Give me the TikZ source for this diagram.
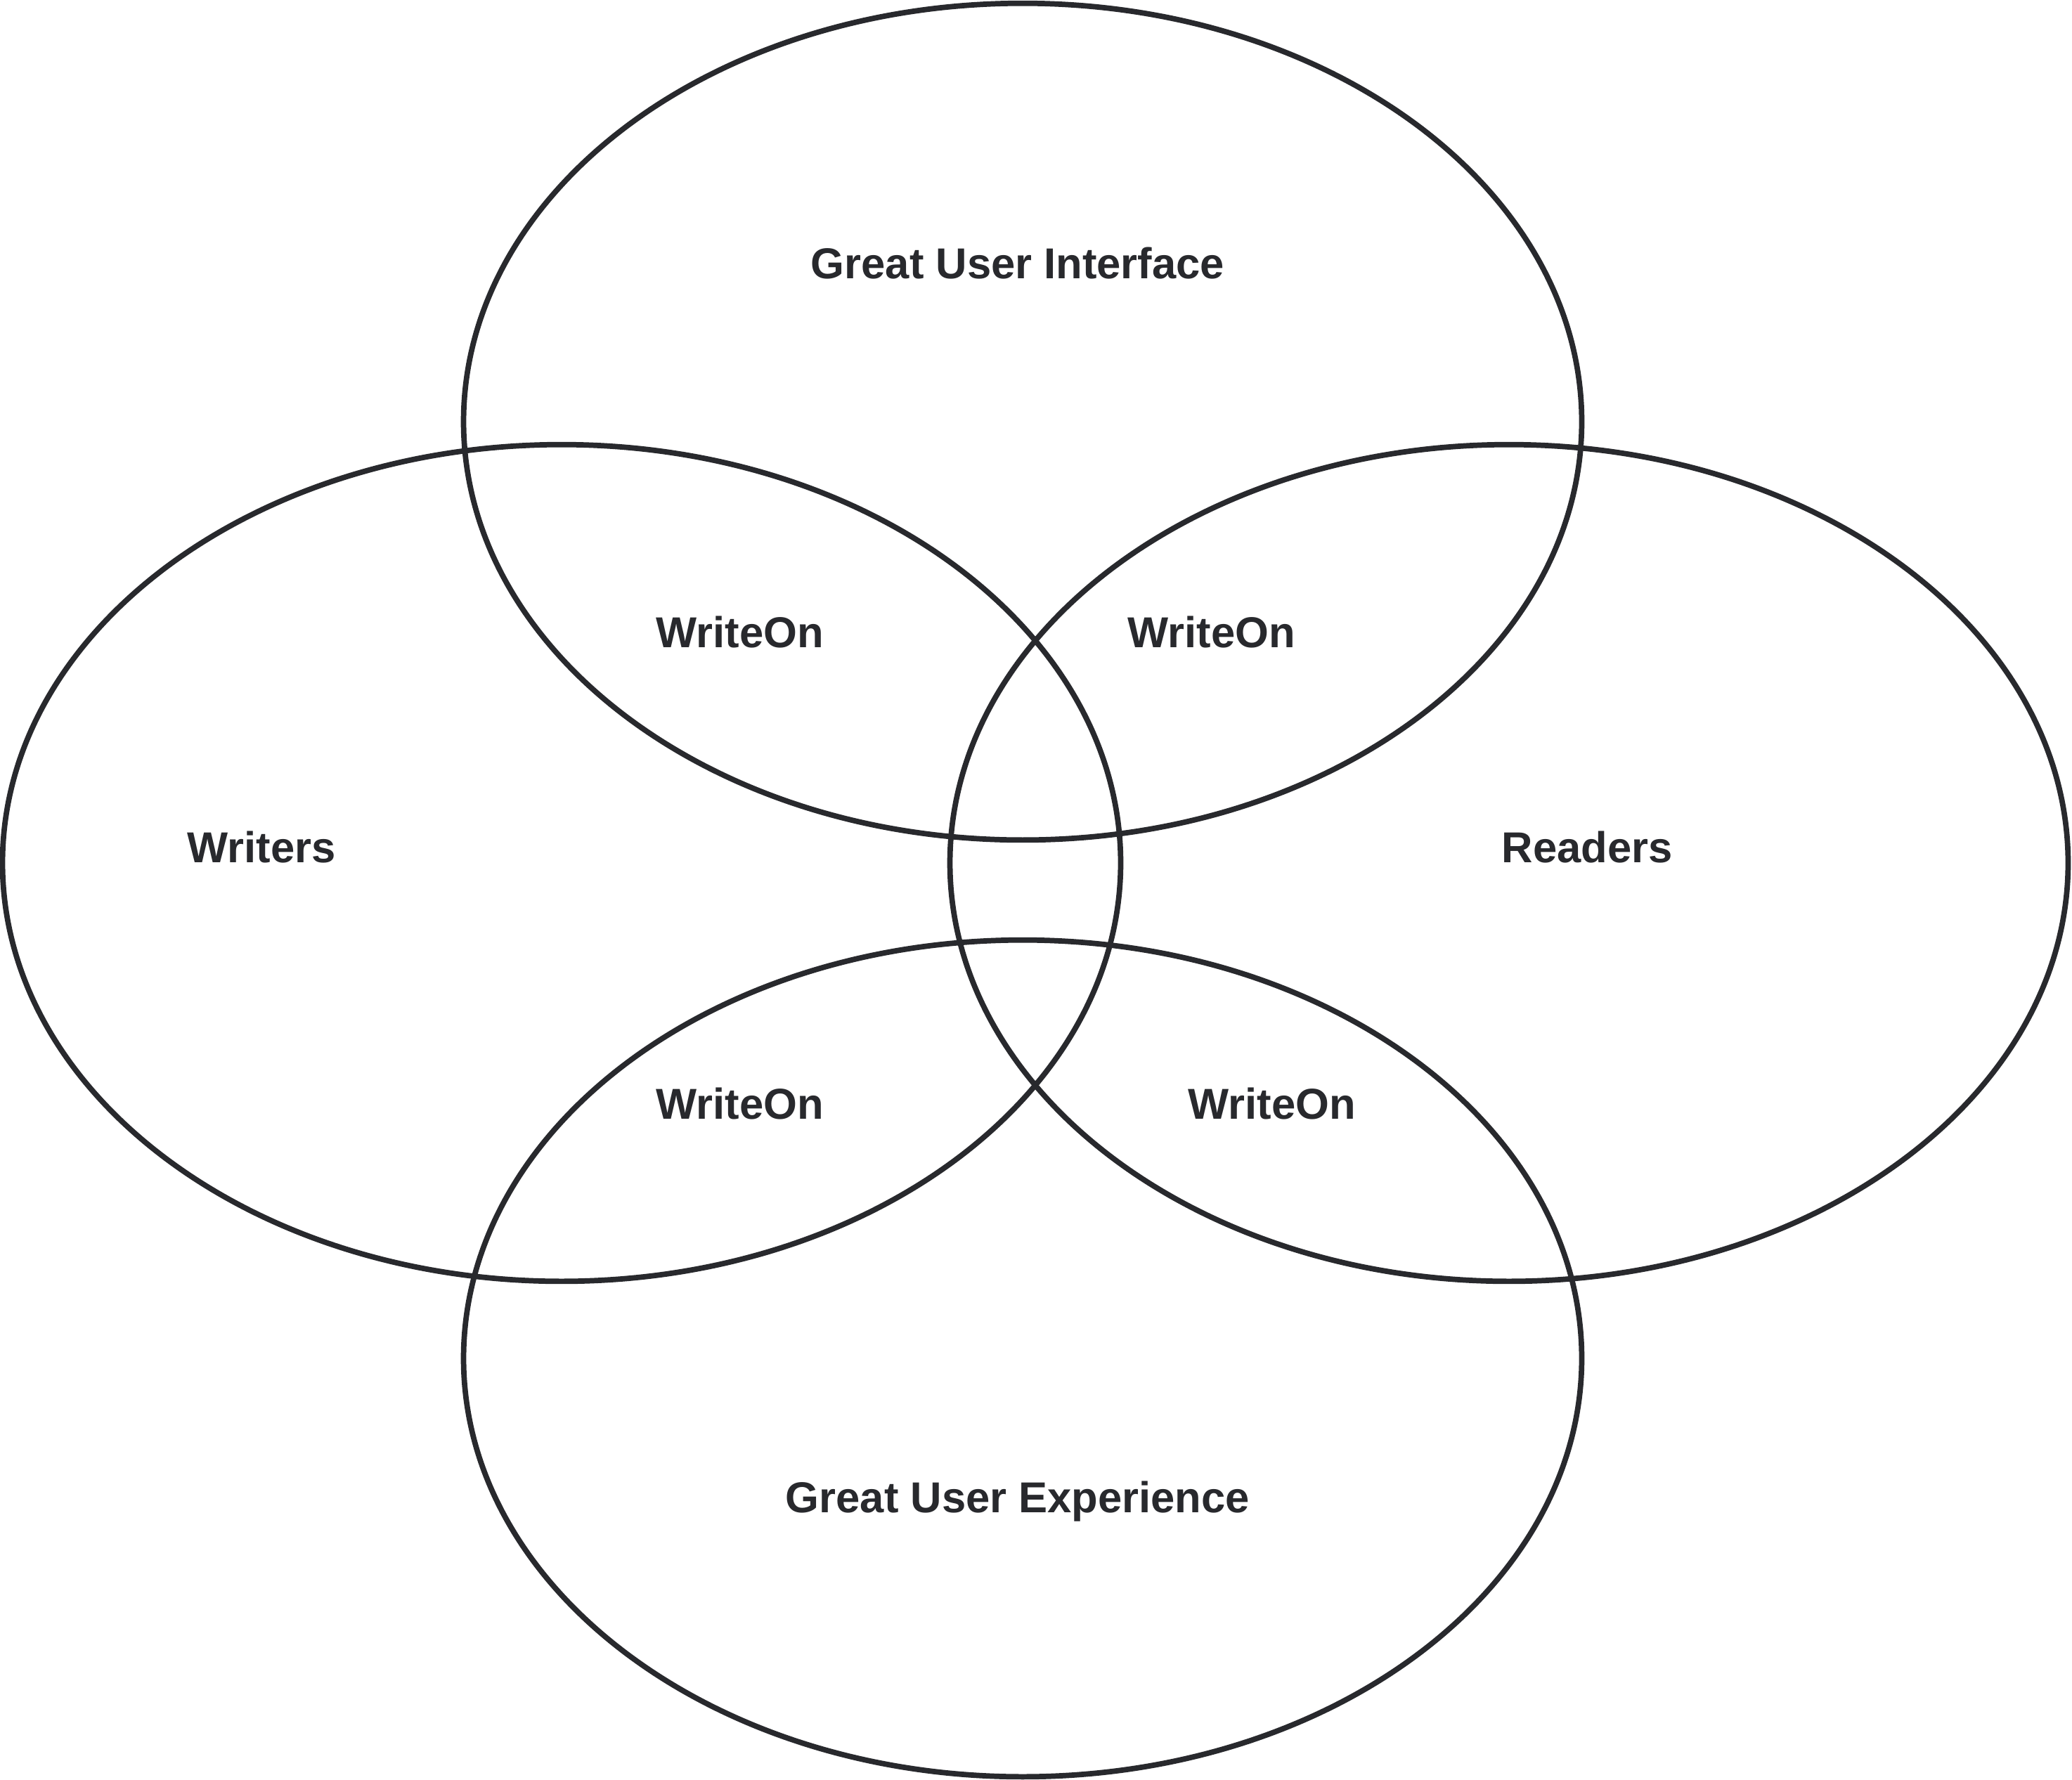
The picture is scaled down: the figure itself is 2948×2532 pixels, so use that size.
\documentclass[tikz,border=0pt]{standalone}
\usepackage{fontspec}
\setmainfont{Liberation Sans}
\usetikzlibrary{shapes.geometric,positioning}
\definecolor{ink}{HTML}{28292D}

\begin{document}
\begin{tikzpicture}[x=0.01cm,y=-0.01cm,
  set/.style={draw=ink,line width=2.2pt,ellipse,inner sep=0pt,
    minimum width=15.9cm,minimum height=11.9cm},
  tag/.style={text=ink,font=\fontsize{17.5}{21}\selectfont\bfseries,
    inner sep=0pt,text height=1.38ex,text depth=0pt}]
  \useasboundingbox (0,0) rectangle (2948,2532);
  \node[set] (gui) at (1455,600) {};
  \node[set] (wri) at (799,1228) {};
  \node[set] (rea) at (2147,1228) {};
  \node[set] (gux) at (1455,1933) {};

  \node[tag] (tgui) at (1448,384) {Great User Interface};
  \node[tag] (twri) at (372,1215) {Writers};
  \node[tag] (trea) at (2258,1215) {Readers};
  \node[tag] (tgux) at (1448,2140) {Great User Experience};
  \node[tag] (wo1) at (1053,909) {WriteOn};
  \node[tag] (wo2) at (1724,909) {WriteOn};
  \node[tag] (wo3) at (1053,1580) {WriteOn};
  \node[tag] (wo4) at (1810,1580) {WriteOn};
\end{tikzpicture}
\end{document}
